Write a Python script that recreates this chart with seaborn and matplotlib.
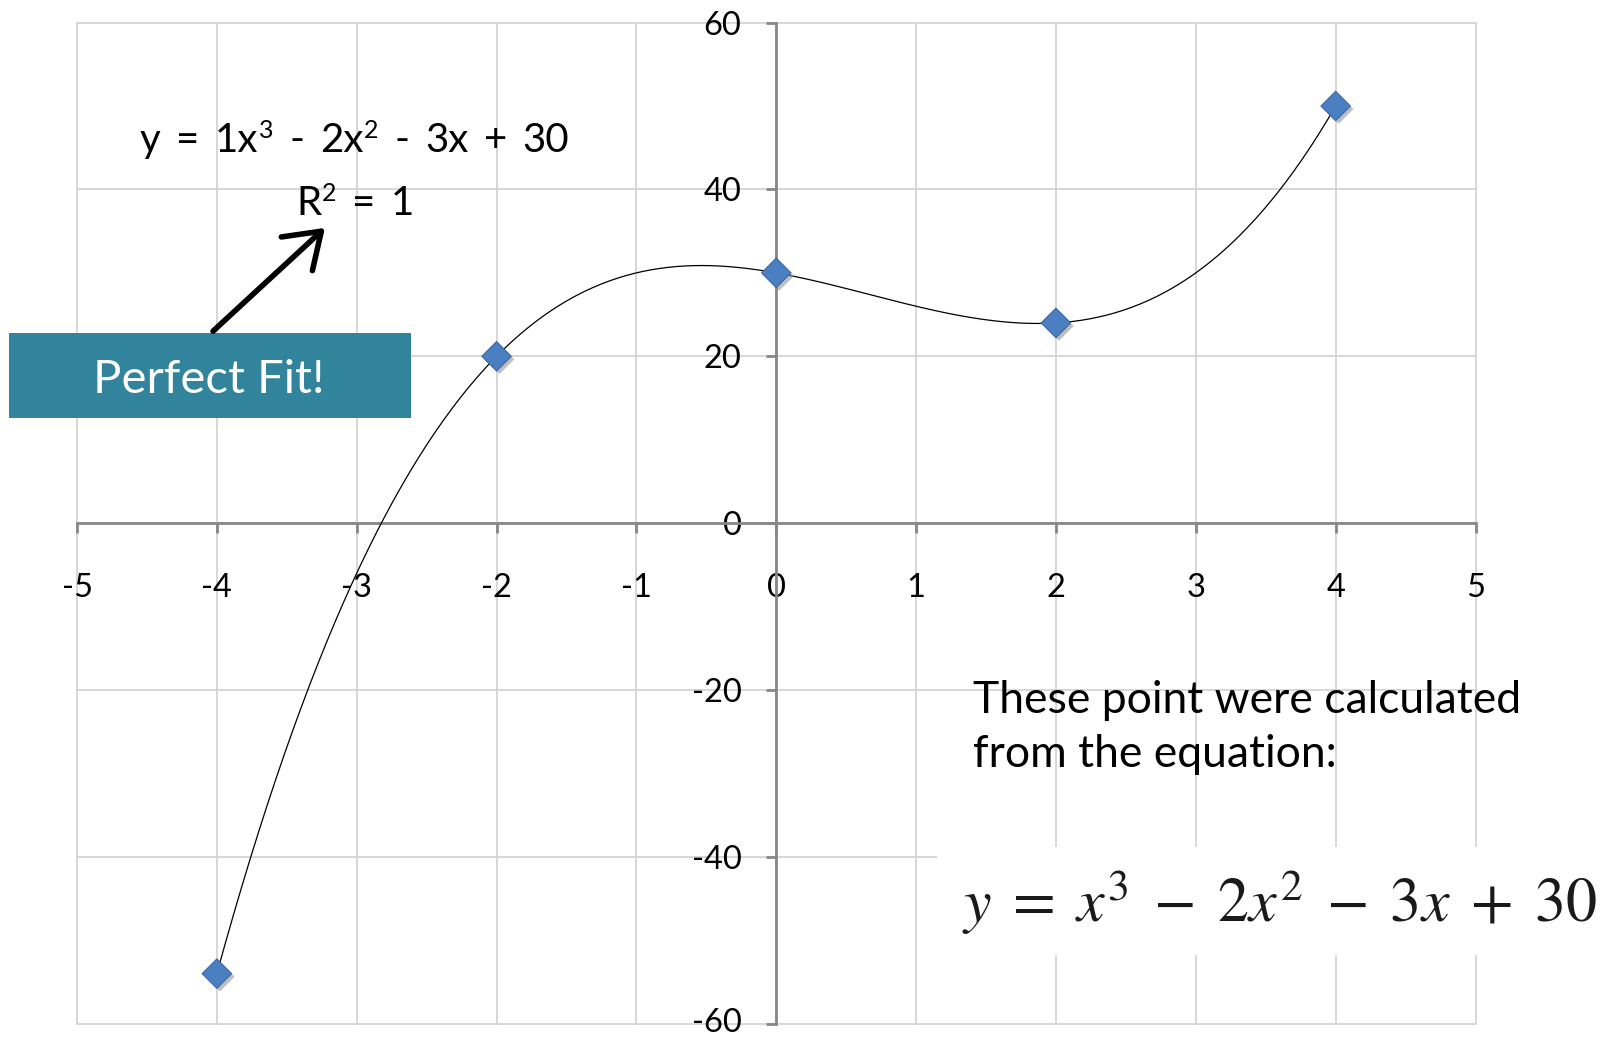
import numpy as np
import pandas as pd
import matplotlib
matplotlib.use("Agg")
import matplotlib.pyplot as plt
import matplotlib.patheffects as pe
import matplotlib.transforms as mtransforms
from matplotlib.patches import Rectangle, FancyArrowPatch
import seaborn as sns

# Sample points and axis ticks
x_points = [-4, -2, 0, 2, 4]
y_points = [-54, 20, 30, 24, 50]
x_ticks = [-5, -4, -3, -2, -1, 0, 1, 2, 3, 4, 5]
y_ticks = [-60, -40, -20, 0, 20, 40, 60]

sns.set_theme(style="white")
plt.rcParams['font.family'] = ['Lato', 'DejaVu Sans']
plt.rcParams['mathtext.fontset'] = 'stix'
plt.rcParams['axes.unicode_minus'] = False

W, H = 1610, 1037
fig = plt.figure(figsize=(W / 100, H / 100), dpi=100)
fig.patch.set_facecolor('white')
renderer = fig.canvas.get_renderer()


def fx(px):
    return px / W


def fy(py):
    return 1 - py / H


ax = fig.add_axes([fx(77), fy(1023.7), (1475.5 - 77) / W, (1023.7 - 22.6) / H])
ax.set_facecolor('white')

df = pd.DataFrame({'x': x_points, 'y': y_points})

# cubic trendline fitted to the points
coef = np.polyfit(df['x'], df['y'], 3)
fit_x = np.linspace(min(x_points), max(x_points), 400)
fit = pd.DataFrame({'x': fit_x, 'y': np.polyval(coef, fit_x)})
pred = np.polyval(coef, df['x'])
r2 = 1 - ((df['y'] - pred) ** 2).sum() / ((df['y'] - df['y'].mean()) ** 2).sum()

sns.lineplot(data=fit, x='x', y='y', color='black', lw=0.9, ax=ax, zorder=3)
sns.scatterplot(
    data=df, x='x', y='y', marker='D', s=225, color='#4a7fc1',
    edgecolor='#3a69a8', linewidth=0.8, ax=ax, zorder=4,
    path_effects=[pe.SimplePatchShadow(offset=(2.2, -2.2), shadow_rgbFace='#8c8c8c', alpha=0.55),
                  pe.Normal()],
)

ax.set_xlim(-5, 5)
ax.set_ylim(-60, 60)
ax.set_xticks(x_ticks)
ax.set_yticks(y_ticks)
ax.set_xlabel('')
ax.set_ylabel('')

# axes crossing at the origin
for side in ('top', 'right'):
    ax.spines[side].set_visible(False)
ax.spines['left'].set_position(('data', 0))
ax.spines['bottom'].set_position(('data', 0))
for side in ('left', 'bottom'):
    ax.spines[side].set_color('#878787')
    ax.spines[side].set_linewidth(2.0)
    ax.spines[side].set_zorder(2.5)

ax.grid(True, color='#d4d4d4', lw=1.3)
ax.set_axisbelow(True)
for gl in ax.get_xgridlines() + ax.get_ygridlines():
    gl.set_clip_on(False)

ax.tick_params(axis='both', direction='out', length=7, width=2.0, color='#878787',
               labelsize=23.5, labelcolor='black')
ax.tick_params(axis='y', pad=18, left=True)
ax.tick_params(axis='x', pad=29, bottom=True)
for lbl in ax.get_yticklabels():
    lbl.set_verticalalignment('center_baseline')

# keep the lowest y label inside the figure
lowest = ax.yaxis.get_major_ticks()[0].label1
lowest.set_transform(lowest.get_transform()
                     + mtransforms.ScaledTranslation(0, 4 / 100, fig.dpi_scale_trans))


def rich_line(tokens, left_px, right_px, baseline_px, size, sup_scale=0.62, sup_raise=14):
    """Lay out (text, is_superscript) tokens between two pixel x positions."""
    items = []
    for text, is_sup in tokens:
        fs = size * sup_scale if is_sup else size
        t = fig.text(0, 0, text, fontsize=fs, ha='left', va='baseline', color='black', zorder=6)
        items.append((t, is_sup, t.get_window_extent(renderer).width))
    n_gaps = sum(1 for _, s, _ in items[1:] if not s)
    sup_gap = 1
    n_sup = sum(1 for _, s, _ in items[1:] if s)
    total = sum(w for _, _, w in items)
    gap = (right_px - left_px - total - n_sup * sup_gap) / max(n_gaps, 1)
    x = left_px
    for i, (t, is_sup, w) in enumerate(items):
        if i > 0:
            x += sup_gap if is_sup else gap
        y = baseline_px - (sup_raise if is_sup else 0)
        t.set_position((fx(x), fy(y)))
        x += w


# trendline equation and R²
c3, c2, c1, c0 = [int(round(c)) for c in coef]


def sgn(v):
    return '+' if v >= 0 else '-'


eq_tokens = [("y", False), ("=", False), (f"{c3}x", False), ("3", True),
             (sgn(c2), False), (f"{abs(c2)}x", False), ("2", True),
             (sgn(c1), False), (f"{abs(c1)}x", False),
             (sgn(c0), False), (f"{abs(c0)}", False)]
rich_line(eq_tokens, 140, 569, 152, 29)
r2_tokens = [("R", False), ("2", True), ("=", False), (f"{r2:.0f}", False)]
rich_line(r2_tokens, 296, 414, 215, 29)

# callout box with arrow
fig.add_artist(Rectangle((fx(9), fy(418)), (411 - 9) / W, (418 - 333) / H,
                         transform=fig.transFigure, facecolor='#31849b', edgecolor='none', zorder=5))
fig.text(fx(209), fy(393), "Perfect Fit!", ha='center', va='baseline', fontsize=34,
         color='white', zorder=6)
fig.add_artist(FancyArrowPatch((fx(211), fy(333)), (fx(327), fy(226)),
                               transform=fig.transFigure,
                               arrowstyle='->,head_length=0.8,head_width=0.55',
                               mutation_scale=30, lw=4.0, color='black', zorder=6))

# note and source equation
fig.text(fx(973), fy(713), "These point were calculated", ha='left', va='baseline',
         fontsize=32, color='black', zorder=6)
fig.text(fx(973), fy(767), "from the equation:", ha='left', va='baseline',
         fontsize=32, color='black', zorder=6)
fig.add_artist(Rectangle((fx(937), fy(955)), (W - 937) / W, (955 - 847) / H,
                         transform=fig.transFigure, facecolor='white', edgecolor='none', zorder=5))
fig.text(fx(962), fy(922), r'$y\;=\;x^3\;-\;2x^2\;-\;3x\;+\;30$', ha='left', va='baseline',
         fontsize=44.7, color='#1a1a1a', zorder=6)

fig.savefig('out.png', dpi=100, facecolor='white')
